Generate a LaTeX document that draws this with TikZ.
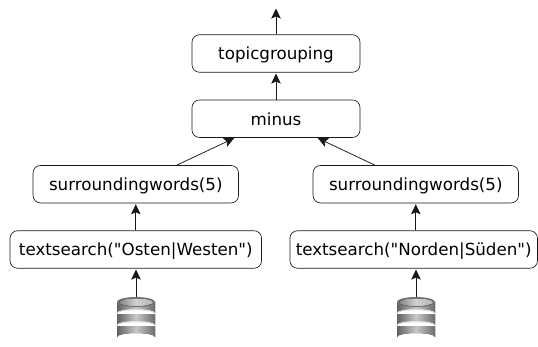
\documentclass[tikz,border=0pt]{standalone}
\usepackage{fontspec}
\newfontfamily\labelfont{DejaVu Sans}
\usetikzlibrary{arrows.meta}
\tikzset{
 opbox/.style={draw=black!90,line width=0.65pt,rounded corners=7.5pt,minimum height=37.5pt,inner sep=0pt,text height=13.5pt,text depth=0.5pt,font=\labelfont\fontsize{16.7pt}{19pt}\selectfont,anchor=center},
 conn/.style={draw=black!90,line width=0.75pt,shorten >=1pt,-{Stealth[length=10pt,width=9.5pt,inset=2pt]}},
}
\newcommand{\dbicon}[1]{%
 \begin{scope}[shift={(#1)}]
  % bands, bottom first; origin at centre of the top ellipse
  \foreach \t/\b in {24/35,12/23,0/11}{%
   \fill[left color=black!62,right color=black!58,middle color=black!22]
     (-19,\t) -- (19,\t) -- (19,\b) arc[start angle=360,end angle=180,x radius=19,y radius=4] -- cycle;
  }
  \foreach \b in {23,11}{%
   \fill[black!12]
     (-19,\b) arc[start angle=180,end angle=360,x radius=19,y radius=4] -- (19,\b+1.3) arc[start angle=360,end angle=180,x radius=19,y radius=4] -- cycle;
  }
  \fill[black!55] (0,0) ellipse[x radius=19,y radius=5];
  \fill[left color=black!48,right color=black!28,middle color=black!18] (0,0.3) ellipse[x radius=17,y radius=3.8];
 \end{scope}}
\begin{document}
\begin{tikzpicture}[x=1pt,y=-1pt]
\useasboundingbox (0,0) rectangle (538,347);
\fill[white] (0,0) rectangle (538,347);
\dbicon{136,302}
\dbicon{416,302}
\coordinate (db1) at (136,297);
\coordinate (db2) at (416,297);
\coordinate (top) at (276,7.5);
\node[opbox,minimum width=168pt] (tg) at (276,53.5) {topicgrouping};
\node[opbox,minimum width=168pt] (mi) at (276,118.7) {minus};
\node[opbox,minimum width=205.5pt] (s1) at (135.8,184.2) {surroundingwords(5)};
\node[opbox,minimum width=205.5pt] (s2) at (415.8,184.2) {surroundingwords(5)};
\node[opbox,minimum width=251.5pt] (t1) at (135.8,249.5) {textsearch("Osten|Westen")};
\node[opbox,minimum width=247.5pt] (t2) at (413.7,249.5) {textsearch("Norden|Süden")};
\draw[conn] (db1) -- (t1.south -| db1);
\draw[conn] (db2) -- (t2.south -| db2);
\draw[conn] (t1.north -| s1) -- (s1.south);
\draw[conn] (t2.north -| s2) -- (s2.south);
\draw[conn] ([xshift=41pt]s1.north) -- ([xshift=-41pt]mi.south);
\draw[conn] ([xshift=-41pt]s2.north) -- ([xshift=41pt]mi.south);
\draw[conn] (mi.north) -- (tg.south);
\draw[conn] (tg.north) -- (top);
\end{tikzpicture}
\end{document}
